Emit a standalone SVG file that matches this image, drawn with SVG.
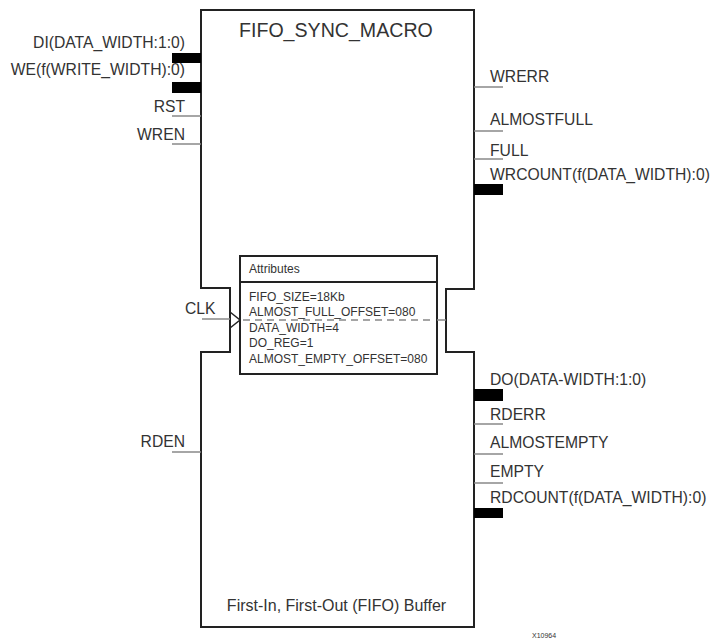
<svg xmlns="http://www.w3.org/2000/svg" width="710" height="644" viewBox="0 0 710 644">
<style>
text{font-family:"Liberation Sans",Arial,sans-serif;fill:#333}
.pin{font-size:15.7px}
.l{text-anchor:end}
.attr{font-size:12px}
.wire{stroke:#888;stroke-width:1.5;fill:none}
.bus{fill:#000}
.outline{fill:#fff;stroke:#222;stroke-width:2}
</style>
<rect width="710" height="644" fill="#fff"/>
<g id="fifo_sync_macro">
<polygon class="outline" points="201,10 474,10 474,289 446,289 446,352 474,352 474,627 201,627 201,352 230,352 230,288 201,288"/>
<text x="239" y="37" font-size="19.6">FIFO_SYNC_MACRO</text>
<text x="336.5" y="611" font-size="16" text-anchor="middle">First-In, First-Out (FIFO) Buffer</text>
</g>
<g id="attributes">
<rect x="240" y="256" width="197" height="118" fill="#fff" stroke="#222" stroke-width="2"/>
<line x1="240" y1="282" x2="437" y2="282" stroke="#222" stroke-width="2"/>
<text class="attr" x="249" y="273">Attributes</text>
<text class="attr" x="249" y="301">FIFO_SIZE=18Kb</text>
<text class="attr" x="249" y="316">ALMOST_FULL_OFFSET=080</text>
<text class="attr" x="249" y="332">DATA_WIDTH=4</text>
<text class="attr" x="249" y="347">DO_REG=1</text>
<text class="attr" x="249" y="363">ALMOST_EMPTY_OFFSET=080</text>
</g>
<g id="connectors">
<line class="wire" x1="243" y1="320" x2="432" y2="320" stroke-dasharray="7,5"/>
<line class="wire" x1="437" y1="320" x2="446" y2="320"/>
<rect class="bus" x="172" y="53" width="29" height="10"/>
<rect class="bus" x="172" y="82" width="29" height="11"/>
<line class="wire" x1="172" y1="116" x2="201" y2="116"/>
<line class="wire" x1="172" y1="144" x2="201" y2="144"/>
<line class="wire" x1="202" y1="319" x2="230" y2="319"/>
<polyline points="230,312 240,320 230,328" fill="none" stroke="#222" stroke-width="1.5"/>
<line class="wire" x1="172" y1="452" x2="201" y2="452"/>
<line class="wire" x1="474" y1="87" x2="503" y2="87"/>
<line class="wire" x1="474" y1="131" x2="503" y2="131"/>
<line class="wire" x1="474" y1="159" x2="503" y2="159"/>
<rect class="bus" x="474" y="184" width="29" height="11"/>
<rect class="bus" x="474" y="389" width="29" height="12"/>
<line class="wire" x1="474" y1="424" x2="503" y2="424"/>
<line class="wire" x1="474" y1="454" x2="503" y2="454"/>
<line class="wire" x1="474" y1="483" x2="503" y2="483"/>
<rect class="bus" x="474" y="508" width="29" height="10"/>
</g>
<g id="pin_labels">
<text class="pin l" x="185" y="48">DI(DATA_WIDTH:1:0)</text>
<text class="pin l" x="185" y="75">WE(f(WRITE_WIDTH):0)</text>
<text class="pin l" x="185" y="112">RST</text>
<text class="pin l" x="185" y="140">WREN</text>
<text class="pin" x="185" y="314">CLK</text>
<text class="pin l" x="185" y="447">RDEN</text>
<text class="pin" x="490" y="82">WRERR</text>
<text class="pin" x="490" y="125">ALMOSTFULL</text>
<text class="pin" x="490" y="156">FULL</text>
<text class="pin" x="490" y="180">WRCOUNT(f(DATA_WIDTH):0)</text>
<text class="pin" x="490" y="385">DO(DATA-WIDTH:1:0)</text>
<text class="pin" x="490" y="420">RDERR</text>
<text class="pin" x="490" y="448">ALMOSTEMPTY</text>
<text class="pin" x="490" y="477">EMPTY</text>
<text class="pin" x="490" y="503">RDCOUNT(f(DATA_WIDTH):0)</text>
</g>
<text x="532" y="638" font-size="7">X10964</text>
</svg>
